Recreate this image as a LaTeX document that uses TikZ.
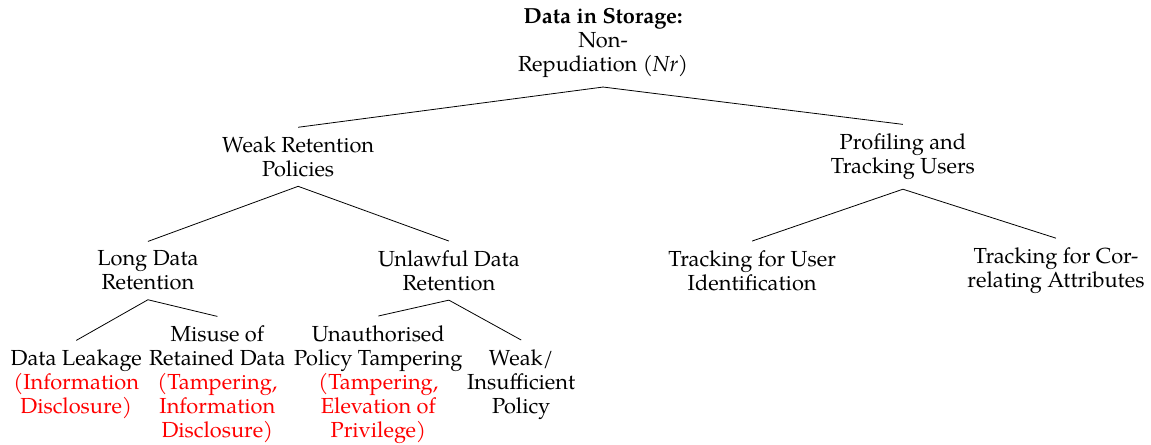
\documentclass[tikz,border=0pt]{standalone}
\usepackage{fontspec}
\setmainfont{TeX Gyre Pagella}
\usepackage{tikz}
\usetikzlibrary{positioning}
\newcommand{\threat}[1]{\textcolor{red}{#1}}

\begin{document}
\begin{tikzpicture}[auto]
	\tikzstyle{block} = [rectangle, align=center, inner sep=4.5pt, font=\fontsize{10.9}{12}\selectfont]
	\tikzstyle{line} = [draw]

	    \useasboundingbox (-10.6,-7.05) rectangle (9.63,0.756);

	    % Place nodes
	    \node [block] (NR) {\textbf{Data in Storage:}\\ Non-\\ Repudiation \textit{(Nr)}};
	    \node [block, yshift = -2cm, xshift = -5.36cm] (WRP) {Weak Retention\\ Policies};
	    \node [block, yshift = -2cm, xshift = 5.27cm] (PTU) {Profiling and\\ Tracking Users};
	    \node [block, yshift = -4cm, xshift = -8cm] (LDR) {Long Data\\ Retention};
	    \node [block, yshift = -4cm, xshift = -2.71cm] (UDR) {Unlawful Data\\ Retention};
	    \node [block, yshift = -4cm, xshift = 2.62cm] (TUI) {Tracking for User\\ Identification};
	    \node [block, yshift = -4cm, xshift = 7.96cm] (TCA) {Tracking for Cor-\\ relating Attributes};
	    \node [block, yshift = -6cm, xshift = -9.26cm] (DL) {Data Leakage\\ \threat{(Information}\\ \threat{Disclosure)}};
	    \node [block, yshift = -6cm, xshift = -6.78cm] (MRD) {Misuse of\\ Retained Data\\ \threat{(Tampering,}\\ \threat{Information}\\ \threat{Disclosure)}};
	    \node [block, yshift = -6cm, xshift = -3.95cm] (UPT) {Unauthorised\\ Policy Tampering\\ \threat{(Tampering,}\\ \threat{Elevation of}\\ \threat{Privilege)}};
	    \node [block, yshift = -6cm, xshift = -1.44cm] (WIP) {Weak/\\ Insufficient\\ Policy};

	    % Draw edges
	    \path [line] (NR.south) -- (WRP.north);
	    \path [line] (NR.south) -- (PTU.north);
	    \path [line] (WRP.south) -- (LDR.north);
	    \path [line] (WRP.south) -- (UDR.north);
	    \path [line] (PTU.south) -- (TUI.north);
	    \path [line] (PTU.south) -- (TCA.north);
	    \path [line] (LDR.south) -- (DL.north);
	    \path [line] (LDR.south) -- (MRD.north);
	    \path [line] (UDR.south) -- (UPT.north);
	    \path [line] (UDR.south) -- (WIP.north);

	\end{tikzpicture}
\end{document}
